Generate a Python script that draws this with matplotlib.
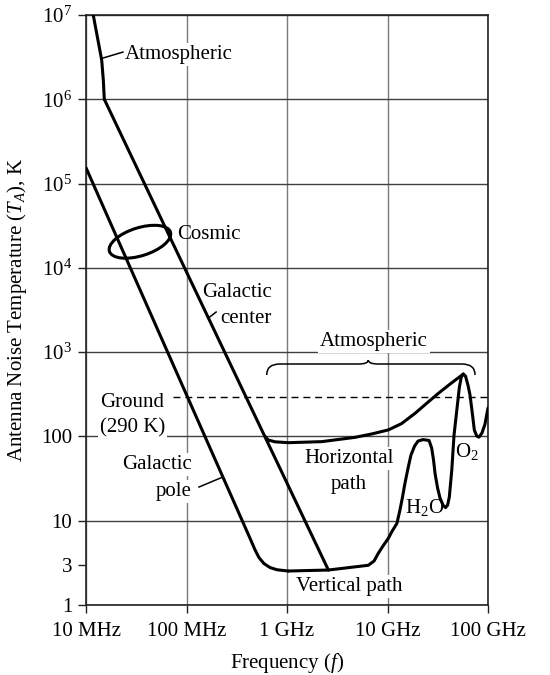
import numpy as np
import matplotlib
matplotlib.use('Agg')
import matplotlib.pyplot as plt
from matplotlib.patches import Ellipse, PathPatch
from matplotlib.path import Path
from matplotlib.transforms import ScaledTranslation

plt.rcParams['font.family'] = ['Liberation Serif', 'DejaVu Serif']
plt.rcParams['mathtext.fontset'] = 'custom'
plt.rcParams['mathtext.rm'] = 'Liberation Serif'
plt.rcParams['mathtext.it'] = 'Liberation Serif:italic'
plt.rcParams['mathtext.bf'] = 'Liberation Serif:bold'

# ---------------- data ----------------
x_ticks = [1e7, 1e8, 1e9, 1e10, 1e11]
x_tick_labels = ['10 MHz', '100 MHz', '1 GHz', '10 GHz', '100 GHz']
y_ticks = [1, 3, 10, 100, 1e3, 1e4, 1e5, 1e6, 1e7]
y_tick_labels = ['1', '3', '10', '100', r'$\mathregular{10^3}$', r'$\mathregular{10^4}$',
                 r'$\mathregular{10^5}$', r'$\mathregular{10^6}$', r'$\mathregular{10^7}$']

atmos_f = [1.18e7, 1.316e7, 1.433e7, 1.486e7, 1.52e7]
atmos_T = [1e7, 5.0e6, 2.9e6, 1.7e6, 1.0e6]

gal_center_f = [1.52e7, 2.58e9]
gal_center_T = [1.0e6, 2.6]

gal_pole_f = [1e7, 4.28e8, 4.81e8, 5.26e8, 5.9e8, 6.78e8, 7.94e8, 1.03e9]
gal_pole_T = [1.54e5, 6.2, 4.5, 3.65, 3.1, 2.78, 2.62, 2.53]

vert_f = [1.03e9, 2.58e9, 6.44e9, 7.35e9, 8.09e9, 9.0e9, 1.02e10, 1.11e10, 1.24e10, 1.33e10,
          1.41e10, 1.49e10, 1.6e10, 1.71e10, 1.86e10, 2.01e10, 2.25e10, 2.59e10, 2.75e10, 2.87e10,
          2.97e10, 3.15e10, 3.33e10, 3.57e10, 3.78e10, 3.96e10, 4.12e10, 4.36e10, 4.59e10, 4.89e10,
          5.19e10, 5.42e10, 5.68e10, 5.97e10, 6.32e10, 6.62e10, 6.98e10, 7.31e10, 7.73e10, 8.13e10,
          8.71e10, 9.33e10, 1.0e11]
vert_T = [2.53, 2.6, 2.96, 3.33, 4.1, 5.0, 6.2, 7.5, 9.3, 13.4,
          19.1, 27.7, 42, 60, 77, 88, 91.7, 89.5, 72.8, 52.5,
          36.5, 24.4, 18.6, 15.3, 14.3, 15.3, 19.1, 40, 104, 204,
          385, 506, 550, 520, 405, 310, 188, 119, 101, 98,
          110, 140, 218]

horiz_f = [6.04e8, 6.52e8, 7.6e8, 1.03e9, 2.21e9, 4.75e9, 6.97e9, 1.02e10, 1.38e10, 1.88e10,
           2.45e10, 3.2e10, 4.19e10, 5.68e10]
horiz_T = [100, 90.6, 86.3, 84.3, 86.7, 97.5, 107, 119.5, 142, 188,
           247, 324, 418, 550]

ground_T = 290

# ---------------- figure ----------------
fig = plt.figure(figsize=(5.5, 6.75), dpi=100)
ax = fig.add_axes([0.1564, 0.1037, 0.7309, 0.8741])
ax.set_xscale('log')
ax.set_yscale('log')
ax.set_xlim(1e7, 1e11)
ax.set_ylim(1, 1e7)

ax.set_xticks(x_ticks)
ax.set_xticklabels(x_tick_labels)
ax.set_yticks(y_ticks)
ax.set_yticklabels(y_tick_labels)
ax.xaxis.set_minor_locator(matplotlib.ticker.NullLocator())
ax.yaxis.set_minor_locator(matplotlib.ticker.NullLocator())
ax.tick_params(axis='both', direction='out', length=6, width=1.0, labelsize=15, color='#222222')
ax.tick_params(axis='x', pad=6)
ax.tick_params(axis='y', pad=4)

ax.set_axisbelow(True)
ax.xaxis.grid(True, color='#7a7a7a', lw=1.0)
ax.yaxis.grid(True, color='#404040', lw=1.0)
for i, gl in enumerate(ax.get_ygridlines()):
    if y_ticks[i] == 3:
        gl.set_visible(False)

for s in ax.spines.values():
    s.set_linewidth(1.2)
    s.set_color('#222222')

lw = 2.2
kw = dict(color='black', lw=lw, solid_joinstyle='round', solid_capstyle='round', zorder=4)
ax.plot(atmos_f, atmos_T, **kw)
ax.plot(gal_center_f, gal_center_T, **kw)
ax.plot(gal_pole_f, gal_pole_T, **kw)
ax.plot(vert_f, vert_T, **kw)
ax.plot(horiz_f, horiz_T, **kw)

# ground dashed line
ax.plot([7.35e7, 1e11], [ground_T, ground_T], color='black', lw=1.0, ls=(0, (5, 3.5)), zorder=3)

# cosmic ellipse (size in inches)
ell = Ellipse((0, 0), width=0.64, height=0.28, angle=17.5, fill=False, lw=lw, ec='black',
              transform=fig.dpi_scale_trans + ScaledTranslation(3.44e7, 2.04e4, ax.transData),
              zorder=4)
ax.add_patch(ell)

# brace
f1, fm, f2 = 6.28e8, 6.44e9, 7.43e10
yb, yl, yt = 535, 723, 805
d = 10 ** 0.13
dm = 10 ** 0.1
verts = [(f1, yb), (f1, yl), (f1 * d, yl),
         (fm / dm, yl), (fm, yl), (fm, yt),
         (fm, yl), (fm * dm, yl),
         (f2 / d, yl), (f2, yl), (f2, yb)]
codes = [Path.MOVETO, Path.CURVE3, Path.CURVE3,
         Path.LINETO, Path.CURVE3, Path.CURVE3,
         Path.CURVE3, Path.CURVE3,
         Path.LINETO, Path.CURVE3, Path.CURVE3]
ax.add_patch(PathPatch(Path(verts, codes), fill=False, lw=1.1, ec='black', zorder=3))

# leader lines
ax.plot([1.43e7, 2.33e7], [3.05e6, 3.63e6], color='black', lw=1.1, zorder=4)
ax.plot([1.65e8, 1.97e8], [2.54e3, 2.99e3], color='black', lw=1.1, zorder=4)
ax.plot([1.33e8, 2.3e8], [25.1, 33.0], color='black', lw=1.1, zorder=4)

fs = 15
bb = dict(facecolor='white', edgecolor='none', pad=1.5)
def lab(x, y, s, ha='left', box=True):
    ax.text(x, y, s, ha=ha, va='baseline', fontsize=fs, zorder=3,
            bbox=bb if box else None)

lab(2.44e7, 3.0e6, 'Atmospheric')
lab(8.04e7, 2.2e4, 'Cosmic', box=False)
lab(7.1e8, 4.47e3, 'Galactic', ha='right', box=False)
lab(7.1e8, 2.2e3, 'center', ha='right', box=False)
lab(1.38e7, 221, 'Ground')
lab(1.38e7, 111, '(290 K)')
lab(1.135e8, 40.7, 'Galactic', ha='right')
lab(1.135e8, 19.8, 'pole', ha='right')
lab(7.35e9, 1.18e3, 'Atmospheric', ha='center')
lab(4.14e9, 48, 'Horizontal', ha='center')
lab(4.14e9, 23.6, 'path', ha='center')
lab(1.49e10, 12.4, r'H$_\mathregular{2}$O', box=False)
lab(4.7e10, 56.5, r'O$_\mathregular{2}$', box=False)
lab(4.14e9, 1.47, 'Vertical path', ha='center')

ax.set_xlabel(r'Frequency ($f$)', fontsize=15)
ax.set_ylabel(r'Antenna Noise Temperature ($T_A$), K', fontsize=15)
ax.yaxis.set_label_coords(-0.142, 0.5)
ax.xaxis.set_label_coords(0.5, -0.078)

fig.savefig('out.png', dpi=100)
